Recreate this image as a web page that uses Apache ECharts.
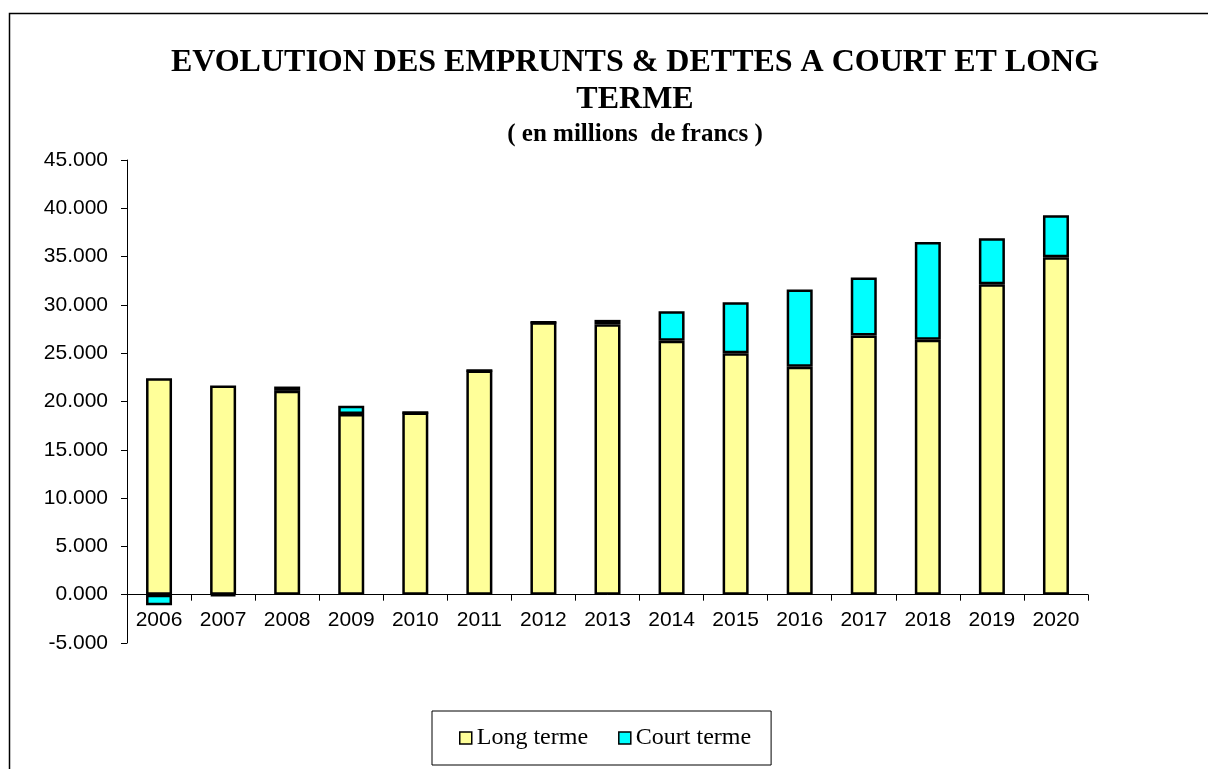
<!DOCTYPE html>
<html lang="fr">
<head>
    <meta charset="UTF-8">
    <title>Evolution des emprunts</title>
    <script src="https://cdn.jsdelivr.net/npm/echarts@6/dist/echarts.min.js" type="text/javascript"></script>
    <style>
        html, body { margin: 0; padding: 0; background: #fff; }
        #main { width: 1208px; height: 769px; }
    </style>
</head>
<body>
<div id="main"></div>
<script>
    // annees
    var years = ['2006', '2007', '2008', '2009', '2010', '2011', '2012', '2013',
                 '2014', '2015', '2016', '2017', '2018', '2019', '2020'];
    // emprunts a long terme (millions)
    var longTerme = [22400, 21650, 21100, 18700, 18850, 23200, 28200, 28000,
                     26300, 25000, 23600, 26830, 26400, 32140, 34930];
    // dettes a court terme (millions)
    var courtTerme = [-1100, -120, 450, 850, 0, 0, 0, 450,
                      3050, 5280, 8000, 6000, 10100, 4760, 4350];

    var serif = '"Liberation Serif", "Times New Roman", serif';
    var sans = '"Liberation Sans", Arial, sans-serif';

    var chart = echarts.init(document.getElementById('main'));
    chart.setOption({
        animation: false,
        backgroundColor: '#fff',
        title: {
            text: 'EVOLUTION DES EMPRUNTS & DETTES A COURT ET LONG\nTERME',
            subtext: '( en millions  de francs )',
            left: 630,
            textAlign: 'center',
            top: 39,
            itemGap: 4,
            textStyle: {
                fontFamily: serif,
                fontWeight: 'bold',
                fontSize: 32,
                lineHeight: 37,
                color: '#000'
            },
            subtextStyle: {
                fontFamily: serif,
                fontWeight: 'bold',
                fontSize: 25,
                color: '#000'
            }
        },
        // cadre de la zone du graphique
        graphic: [{
            type: 'rect',
            silent: true,
            shape: { x: 9.5, y: 13.5, width: 1400, height: 900 },
            style: { fill: 'none', stroke: '#000', lineWidth: 1.5 }
        }],
        legend: {
            left: 432,
            top: 711,
            padding: [15, 20, 15, 27],
            itemGap: 30,
            itemWidth: 12,
            itemHeight: 12,
            icon: 'rect',
            borderColor: '#000',
            borderWidth: 1,
            itemStyle: { borderColor: '#000', borderWidth: 1.5 },
            textStyle: { fontFamily: serif, fontSize: 24, color: '#000' },
            data: ['Long terme', 'Court terme']
        },
        grid: {
            left: 127,
            right: 120,
            top: 160,
            bottom: 126,
            containLabel: false
        },
        xAxis: {
            type: 'category',
            data: years,
            axisLine: { onZero: true, lineStyle: { color: '#000', width: 1 } },
            axisTick: { show: true, inside: false, length: 6, alignWithLabel: false, lineStyle: { color: '#000' } },
            // les libelles suivent la ligne du zero
            axisLabel: { fontFamily: sans, fontSize: 21, color: '#000', margin: -33, interval: 0 }
        },
        yAxis: {
            type: 'value',
            min: -5000,
            max: 45000,
            interval: 5000,
            splitLine: { show: false },
            axisLine: { show: true, lineStyle: { color: '#000', width: 1 } },
            axisTick: { show: true, length: 6, lineStyle: { color: '#000' } },
            axisLabel: {
                fontFamily: sans,
                fontSize: 21,
                color: '#000',
                margin: 19,
                formatter: function (v) { return (v / 1000).toFixed(3); }
            }
        },
        series: [
            {
                name: 'Long terme',
                type: 'bar',
                stack: 'total',
                barWidth: 26,
                itemStyle: { color: '#FFFF99', borderColor: '#000', borderWidth: 2.5 },
                data: longTerme
            },
            {
                name: 'Court terme',
                type: 'bar',
                stack: 'total',
                barWidth: 26,
                itemStyle: { color: '#00FFFF', borderColor: '#000', borderWidth: 2.5 },
                data: courtTerme
            }
        ]
    });
</script>
</body>
</html>
